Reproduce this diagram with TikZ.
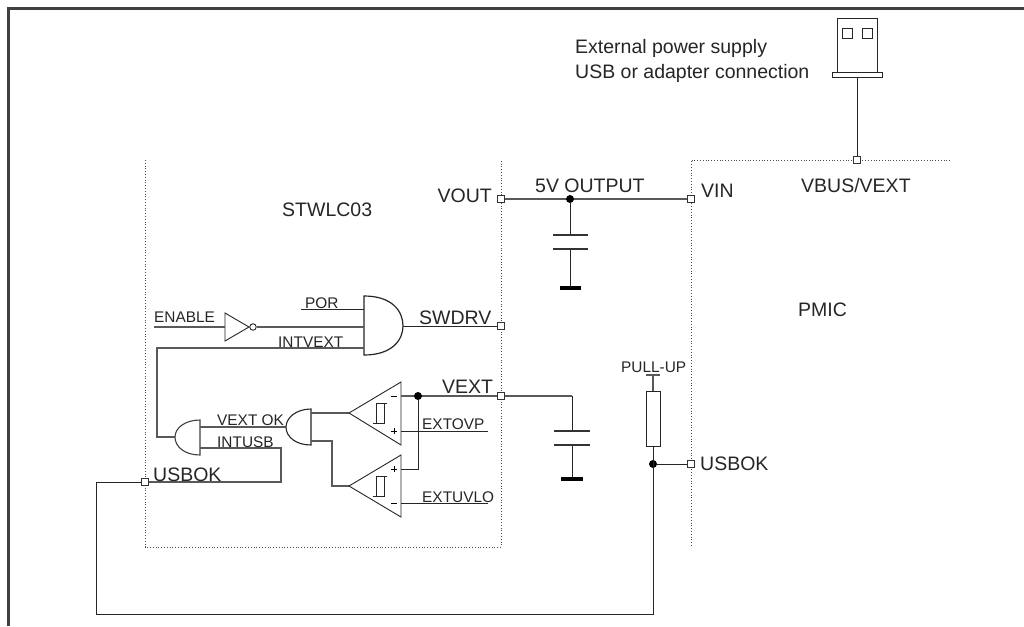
\documentclass[tikz,border=0pt]{standalone}
\usepackage{fontspec}
\setmainfont{Liberation Sans}
\usetikzlibrary{calc}
\tikzset{
  wire/.style={line width=1pt,draw=black!85},
  gwire/.style={line width=1.2pt,draw=black!65},
  bound/.style={line width=0.8pt,draw=black!70,dotted},
  port/.style={draw=black!80,fill=white,line width=0.8pt,minimum size=7pt,inner sep=0pt,rectangle},
  junction/.style={circle,fill=black,minimum size=8pt,inner sep=0pt},
  lab/.style={anchor=base west,inner sep=0pt,text=black!85},
  big/.style={lab,font=\fontsize{19.5}{22}\selectfont},
  small/.style={lab,font=\fontsize{15.4}{18}\selectfont},
  plate/.style={line width=1.2pt,draw=black!80},
  gnd/.style={line width=4pt,draw=black},
  sym/.style={line width=0.9pt,draw=black!85},
}
\begin{document}
\begin{tikzpicture}[x=1pt,y=-1pt]
\useasboundingbox (0,0) rectangle (1024,626);
\fill[white] (0,0) rectangle (1024,626);
% frame
\draw[line width=3pt,black!75] (8.5,626) -- (8.5,9) -- (1024,9);
% boundaries
\draw[bound] (145,160) -- (145,547) -- (501,547) -- (501,160);
\draw[bound] (950,160) -- (691,160) -- (691,547);
% USB plug
\node[draw=black!85,line width=0.9pt,minimum width=40pt,minimum height=54pt,inner sep=0pt] (plug) at (857,45) {};
\node[draw=black!85,line width=0.9pt,minimum width=50pt,minimum height=5pt,inner sep=0pt] (flange) at (857,74.5) {};
\node[draw=black!85,line width=0.9pt,minimum size=10pt,inner sep=0pt] (pa) at (847,33) {};
\node[draw=black!85,line width=0.9pt,minimum size=10pt,inner sep=0pt] (pb) at (867,33) {};
% ports
\node[port] (pvbus) at (857,160) {};
\node[port] (pvout) at (501,199) {};
\node[port] (pvin) at (691,199) {};
\node[port] (psw) at (501,326) {};
\node[port] (pvext) at (501,396) {};
\node[port] (pusb) at (145,482) {};
\node[port] (pusbr) at (691,464) {};
\draw[wire] (flange.south) -- (pvbus.north);
% 5V
\draw[gwire] (pvout) -- (pvin);
\node[junction] (j5) at (570,199) {};
\coordinate (c1a) at (570,235);
\coordinate (c1b) at (570,249);
\coordinate (g1) at (570,288);
\draw[wire] (j5) -- (c1a) (c1b) -- (g1);
\draw[plate] (553,235) -- (588,235) (553,249) -- (588,249);
\draw[gnd] (560,288) -- (581,288);
% VEXT cap
\coordinate (c2t) at (572,396);
\draw[gwire] (pvext) -- (c2t);
\draw[wire] (c2t) -- (572,431) (572,445) -- (572,479);
\draw[plate] (554,431) -- (590,431) (554,445) -- (590,445);
\draw[gnd] (561,479) -- (583,479);
% main AND
\draw[line width=1.2pt,black!85] (364,296) -- (364,355) .. controls (392,355) and (403,340) .. (403,326) .. controls (403,311) and (392,296) .. (364,296) -- cycle;
\coordinate (andout) at (403,326);
\draw[wire] (andout) -- (psw);
\coordinate (porl) at (301,309);
\draw[wire] (porl) -- (364,309);
% inverter
\draw[sym] (225,313) -- (225,341) -- (249,327) -- cycle;
\node[draw=black!85,circle,line width=0.9pt,minimum size=6.5pt,inner sep=0pt] (inv) at (253,327) {};
\draw[gwire] (154,327) -- (225,327);
\draw[gwire] (inv.east) -- (364,327);
% intvext
\draw[gwire] (364,348) -- (157,348) -- (157,437) -- (175,437);
% lower AND
\draw[line width=1.1pt,black!75] (200,420) -- (200,455) .. controls (185,455) and (175,447) .. (175,437) .. controls (175,428) and (185,420) .. (200,420) -- cycle;
\draw[gwire] (200,427) -- (286,427);
\draw[gwire] (200,448) -- (281,448) -- (281,482) -- (pusb);
% middle gate
\draw[line width=1.1pt,black!85] (311,409) -- (311,445) .. controls (296,445) and (286,437) .. (286,427) .. controls (286,418) and (296,409) .. (311,409) -- cycle;
\draw[gwire] (311,413) -- (349,413);
\draw[gwire] (311,441) -- (332,441) -- (332,486) -- (349,486);
% comparators
\draw[sym] (349,413) -- (401,382) -- (401,445) -- cycle;
\draw[sym] (349,486) -- (401,455) -- (401,517) -- cycle;
\foreach \d in {0,73}{
  \draw[line width=0.7pt,black!85] (373,423+\d) -- (384,423+\d) -- (384,403+\d) -- (387,403+\d);
  \draw[line width=0.7pt,black!85] (376,423+\d) -- (376,403+\d) -- (384,403+\d);
}
\draw[gwire] (401,396) -- (pvext);
\node[junction] (jv) at (418,396) {};
\draw[wire] (jv) -- (418,469) -- (401,469);
\draw[wire] (401,431) -- (488,431);
\draw[wire] (401,503) -- (488,503);
\draw[line width=0.8pt] (391,396) -- (397,396) (391,431) -- (397,431) (394,428) -- (394,434);
\draw[line width=0.8pt] (391,503) -- (397,503) (391,469) -- (397,469) (394,466) -- (394,472);
% resistor and return
\node[draw=black!85,line width=0.9pt,minimum width=14pt,minimum height=55pt,inner sep=0pt] (res) at (653,418.5) {};
\node[junction] (jr) at (653,464) {};
\coordinate (rtop) at (653,375);
\draw[gwire] (rtop) -- (res.north);
\draw[gwire] (646,375) -- (660,375);
\draw[wire] (res.south) -- (653,614) -- (96,614) -- (96,482) -- (pusb);
\draw[wire] (jr) -- (pusbr);
% labels
\node[big] (t1) at (575,53) {External power supply};
\node[big] (t2) at (575,78) {USB or adapter connection};
\node[big] (t3) at (801,192) {VBUS/VEXT};
\node[big] (t4) at (535,192) {5V OUTPUT};
\node[big] (t5) at (701,197) {VIN};
\node[big,anchor=base east] (t6) at (492,202) {VOUT};
\node[big] (t7) at (282,216) {STWLC03};
\node[big] (t8) at (798,316) {PMIC};
\node[big] (t9) at (419,324) {SWDRV};
\node[big] (t10) at (442,393) {VEXT};
\node[big] (t11) at (153,481) {USBOK};
\node[big] (t12) at (700,470) {USBOK};
\node[small] (t13) at (154,322) {ENABLE};
\node[small] (t14) at (305,308) {POR};
\node[small] (t15) at (278,347) {INTVEXT};
\node[small] (t16) at (217,425) {VEXT OK};
\node[small] (t17) at (217,447) {INTUSB};
\node[small] (t18) at (422,429) {EXTOVP};
\node[small] (t19) at (422,502) {EXTUVLO};
\node[small] (t20) at (621,372) {PULL-UP};
\end{tikzpicture}
\end{document}
